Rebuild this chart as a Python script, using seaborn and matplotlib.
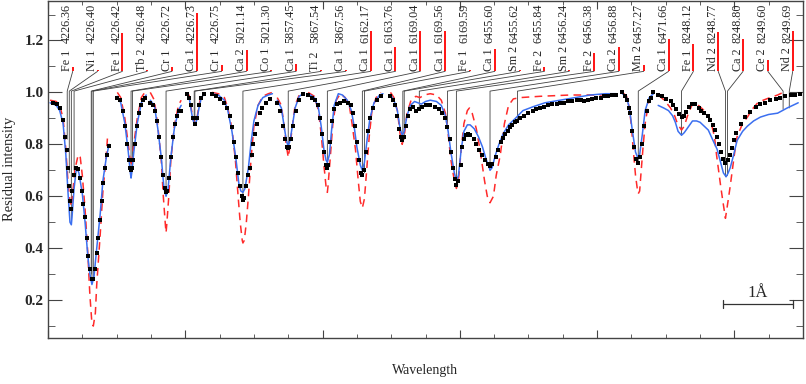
import pandas as pd
import numpy as np
import matplotlib
matplotlib.use('Agg')
import matplotlib.pyplot as plt
from matplotlib.ticker import MultipleLocator, FormatStrFormatter
import seaborn as sns

# x = position along the stitched plot in Angstrom, y = residual intensity

# Ca 1 4226 region
s1_obs_x = [0.07,0.13,0.17,0.22,0.25,0.28,0.29,0.31,0.32,0.34, 0.35,0.38,0.41,0.44,0.47,0.50,0.51,0.54,0.57,0.58,
            0.61,0.64,0.66,0.69,0.71,0.73,0.76,0.79,0.80,0.83, 0.86,0.89]
s1_obs_y = [0.96,0.955,0.94,0.895,0.83,0.78,0.71,0.64,0.58,0.55, 0.62,0.68,0.71,0.705,0.67,0.62,0.57,0.52,0.44,0.37,
            0.32,0.28,0.28,0.32,0.38,0.44,0.51,0.58,0.65,0.71, 0.76,0.795]
s1_blue_x = [0.03,0.12,0.17,0.22,0.26,0.29,0.32,0.34,0.35,0.38, 0.41,0.42,0.45,0.50,0.54,0.58,0.61,0.64,0.67,0.71, 0.76,0.80,0.85,0.89]
s1_blue_y = [0.96,0.95,0.93,0.88,0.76,0.62,0.50,0.49,0.52,0.63, 0.70,0.71,0.69,0.61,0.50,0.37,0.30,0.26,0.29,0.40, 0.53,0.66,0.75,0.80]
s1_red_x = [0.03,0.12,0.17,0.22,0.26,0.29,0.32,0.34,0.35,0.39, 0.44,0.47,0.50,0.54,0.58,0.61,0.64,0.66,0.69,0.71, 0.76,0.80,0.85,0.87]
s1_red_y = [0.97,0.965,0.95,0.90,0.78,0.66,0.58,0.56,0.58,0.70, 0.76,0.75,0.68,0.55,0.38,0.22,0.11,0.10,0.15,0.26, 0.45,0.62,0.76,0.84]

# Ca 2 5021
s2_obs_x = [1.01,1.05,1.09,1.12,1.15,1.18,1.20,1.21,1.22,1.24,1.27,1.30,1.33,1.36,1.38,1.41]
s2_obs_y = [0.98,0.97,0.93,0.87,0.80,0.74,0.71,0.70,0.71,0.74,0.80,0.87,0.92,0.95,0.97,0.98]
s2_blue_x = [1.01,1.06,1.12,1.17,1.20,1.21,1.22,1.25,1.30,1.36,1.43]
s2_blue_y = [0.985,0.96,0.88,0.77,0.69,0.67,0.69,0.77,0.88,0.96,0.99]
s2_red_x = [1.01,1.06,1.12,1.17,1.20,1.21,1.22,1.25,1.30,1.36,1.41]
s2_red_y = [1.0,0.98,0.90,0.80,0.73,0.715,0.73,0.80,0.90,0.98,1.0]

# Ca 1 5857
s3_obs_x = [1.49,1.53,1.56,1.59,1.62,1.65,1.68,1.71,1.72,1.73,1.76,1.79,1.82,1.85,1.88,1.91,1.94]
s3_obs_y = [0.96,0.95,0.93,0.89,0.83,0.75,0.68,0.63,0.615,0.62,0.67,0.75,0.83,0.88,0.91,0.93,0.93]
s3_blue_x = [1.49,1.55,1.60,1.65,1.69,1.72,1.75,1.79,1.84,1.90,1.94]
s3_blue_y = [0.97,0.95,0.86,0.75,0.63,0.60,0.63,0.75,0.86,0.93,0.95]
s3_red_x = [1.49,1.55,1.60,1.65,1.68,1.71,1.72,1.73,1.76,1.79,1.84,1.90,1.94]
s3_red_y = [1.0,0.97,0.87,0.74,0.60,0.49,0.46,0.49,0.60,0.74,0.87,0.95,0.97]

# Ti 2 / Ca 1 5867
s4_obs_x = [2.03,2.06,2.08,2.11,2.14,2.17,2.20,2.23,2.27]
s4_obs_y = [0.995,0.98,0.95,0.90,0.88,0.90,0.95,0.98,0.995]
s4_blue_x = [2.03,2.06,2.08,2.11,2.14,2.17,2.20,2.23,2.27]
s4_blue_y = [0.995,0.975,0.94,0.895,0.875,0.895,0.94,0.975,0.995]
s4_red_x = [2.03,2.06,2.08,2.11,2.14,2.17,2.20,2.23,2.27]
s4_red_y = [1.0,0.985,0.95,0.90,0.88,0.90,0.95,0.985,1.0]

# Ca 1 6162
s5_obs_x = [2.39,2.45,2.51,2.57,2.61,2.65,2.68,2.71,2.74,2.77, 2.80,2.83,2.84,2.86,2.89,2.92,2.94,2.97,2.99,3.02, 3.05,3.09,3.12,3.17,3.24]
s5_obs_y = [0.995,0.985,0.975,0.96,0.94,0.91,0.865,0.81,0.75,0.69, 0.64,0.60,0.585,0.595,0.64,0.68,0.71,0.76,0.80,0.84, 0.88,0.92,0.94,0.96,0.975]
s5_blue_x = [2.39,2.48,2.57,2.62,2.68,2.74,2.78,2.81,2.84,2.87, 2.92,2.96,3.00,3.06,3.13,3.21,3.27]
s5_blue_y = [0.995,0.99,0.97,0.93,0.85,0.74,0.65,0.62,0.615,0.63, 0.71,0.81,0.89,0.95,0.98,0.99,0.995]
s5_red_x = [2.39,2.48,2.57,2.62,2.68,2.73,2.77,2.80,2.83,2.84, 2.86,2.89,2.92,2.96,3.00,3.06,3.13,3.21,3.27]
s5_red_y = [1.0,0.995,0.98,0.94,0.86,0.74,0.60,0.50,0.43,0.42, 0.43,0.50,0.60,0.75,0.87,0.95,0.985,0.995,1.0]

# Ca 1 6163
s6_obs_x = [3.34,3.38,3.43,3.45,3.48,3.50,3.51,3.54,3.57,3.62,3.66,3.72]
s6_obs_y = [0.96,0.93,0.87,0.82,0.79,0.785,0.79,0.82,0.87,0.93,0.97,0.995]
s6_blue_x = [3.34,3.40,3.44,3.47,3.50,3.53,3.56,3.60,3.66,3.72]
s6_blue_y = [0.97,0.94,0.87,0.82,0.79,0.82,0.87,0.94,0.985,0.995]
s6_red_x = [3.34,3.40,3.44,3.47,3.50,3.53,3.56,3.60,3.66,3.72]
s6_red_y = [0.98,0.95,0.87,0.80,0.75,0.80,0.87,0.95,0.99,1.0]

# Ca 1 6169
s7_obs_x = [3.79,3.85,3.89,3.94,3.97,3.99,4.02,4.05,4.07,4.08, 4.11,4.14,4.17,4.21,4.26,4.31,4.37,4.42,4.45,4.48,
            4.50,4.53,4.56,4.58,4.61,4.64,4.66,4.69,4.74,4.80, 4.85]
s7_obs_y = [0.99,0.98,0.97,0.95,0.90,0.84,0.77,0.72,0.71,0.72, 0.81,0.89,0.935,0.955,0.96,0.965,0.96,0.95,0.92,0.87,
            0.81,0.74,0.69,0.68,0.70,0.77,0.85,0.90,0.94,0.97, 0.985]
s7_blue_x = [3.79,3.88,3.94,3.98,4.02,4.05,4.07,4.10,4.13,4.17, 4.23,4.29,4.36,4.42,4.46,4.50,4.55,4.58,4.61,4.65, 4.69,4.75,4.83,4.88]
s7_blue_y = [0.995,0.98,0.94,0.87,0.78,0.74,0.73,0.76,0.85,0.95, 0.995,0.99,0.97,0.93,0.87,0.79,0.72,0.70,0.73,0.82, 0.90,0.96,0.99,0.995]
s7_red_x = [3.79,3.88,3.94,3.98,4.02,4.05,4.07,4.08,4.11,4.15, 4.20,4.26,4.33,4.39,4.43,4.48,4.52,4.55,4.58,4.61, 4.64,4.68,4.72,4.78,4.85]
s7_red_y = [1.0,0.985,0.93,0.84,0.72,0.64,0.615,0.64,0.74,0.88, 0.97,0.995,0.98,0.95,0.88,0.78,0.66,0.58,0.555,0.59, 0.69,0.83,0.93,0.98,1.0]

# 6455-6457 blend
s8_obs_x = [4.99,5.03,5.06,5.09,5.12,5.15,5.16,5.19,5.22,5.25, 5.28,5.32,5.36,5.41,5.45,5.51,5.57,5.64,5.70,5.74,
            5.79,5.82,5.85,5.87,5.90,5.93,5.95,5.98,6.01,6.03, 6.06,6.09,6.12,6.15,6.20,6.24,6.28,6.33,6.37,6.41,
            6.44,6.47,6.52,6.56,6.60,6.63,6.66,6.70,6.73,6.76, 6.81,6.84,6.88,6.94,7.00,7.06,7.11,7.17,7.23,7.29,
            7.35,7.41,7.46,7.52,7.58,7.64,7.70,7.76,7.81,7.87, 7.93,7.99,8.05,8.10,8.16,8.22,8.28]
s8_obs_y = [0.985,0.97,0.95,0.91,0.86,0.83,0.815,0.83,0.87,0.91, 0.935,0.945,0.93,0.935,0.945,0.95,0.95,0.945,0.935,0.92,
            0.90,0.865,0.82,0.77,0.71,0.665,0.645,0.66,0.72,0.79, 0.82,0.835,0.84,0.835,0.82,0.80,0.78,0.76,0.74,0.725,
            0.715,0.725,0.75,0.78,0.81,0.825,0.84,0.85,0.865,0.875, 0.885,0.89,0.90,0.91,0.92,0.93,0.935,0.94,0.945,0.95,
            0.955,0.955,0.96,0.96,0.965,0.965,0.97,0.97,0.965,0.97, 0.975,0.98,0.98,0.985,0.985,0.99,0.99]
s8_blue_x = [4.99,5.04,5.09,5.13,5.16,5.19,5.23,5.28,5.34,5.39, 5.44,5.50,5.57,5.66,5.73,5.79,5.83,5.87,5.92,5.95,
             5.98,6.02,6.06,6.11,6.15,6.21,6.27,6.33,6.38,6.43, 6.44,6.47,6.52,6.57,6.63,6.71,6.81,6.92,7.07,7.24,
             7.46,7.68,7.90,8.12,8.28]
s8_blue_y = [0.99,0.97,0.93,0.86,0.835,0.85,0.91,0.95,0.965,0.96, 0.955,0.965,0.97,0.965,0.95,0.91,0.85,0.77,0.69,0.66,
             0.68,0.78,0.85,0.875,0.875,0.86,0.83,0.79,0.745,0.71, 0.70,0.71,0.76,0.80,0.84,0.875,0.90,0.93,0.945,0.96,
             0.97,0.98,0.99,0.995,0.995]
s8_red_x = [4.99,5.04,5.09,5.13,5.16,5.19,5.23,5.29,5.36,5.42, 5.48,5.57,5.66,5.73,5.79,5.83,5.87,5.92,5.95,5.98,
            6.02,6.06,6.11,6.14,6.18,6.24,6.30,6.36,6.40,6.44, 6.49,6.53,6.59,6.65,6.71,6.78,6.88,7.17,7.61,8.05, 8.22]
s8_red_y = [1.0,0.98,0.93,0.84,0.80,0.83,0.92,0.97,0.985,0.98, 0.99,0.995,0.99,0.97,0.92,0.84,0.74,0.66,0.63,0.66,
            0.78,0.88,0.93,0.94,0.92,0.86,0.77,0.66,0.60,0.575, 0.60,0.68,0.76,0.88,0.95,0.975,0.98,0.985,0.99,0.99, 0.995]

# Ca 1 6471
s9_obs_x = [8.37,8.41,8.44,8.47,8.48,8.51,8.54,8.57,8.60,8.63,8.66,8.69,8.72,8.75,8.78,8.82]
s9_obs_y = [1.0,0.985,0.97,0.94,0.92,0.85,0.79,0.745,0.73,0.75,0.80,0.87,0.93,0.965,0.98,1.0]
s9_blue_x = [8.37,8.43,8.47,8.51,8.56,8.59,8.62,8.66,8.70,8.76,8.82]
s9_blue_y = [0.995,0.98,0.94,0.86,0.77,0.75,0.76,0.84,0.93,0.98,0.995]
s9_red_x = [8.37,8.43,8.47,8.50,8.53,8.56,8.59,8.60,8.62,8.64,8.67,8.70,8.75,8.80]
s9_red_y = [1.0,0.985,0.94,0.87,0.77,0.68,0.62,0.61,0.62,0.69,0.79,0.88,0.96,0.995]

# 8248-8249
s10_obs_x = [8.89,8.95,9.01,9.07,9.11,9.15,9.20,9.23,9.26,9.30, 9.34,9.39,9.43,9.48,9.52,9.56,9.61,9.65,9.69,9.72,
             9.75,9.78,9.81,9.84,9.87,9.90,9.93,9.96,9.99,10.03, 10.09,10.16,10.23,10.31,10.38,10.45,10.52,10.60,10.67,10.74,
             10.82,10.89,10.95]
s10_obs_y = [0.99,0.985,0.975,0.965,0.95,0.935,0.915,0.905,0.91,0.925, 0.945,0.955,0.955,0.94,0.93,0.92,0.91,0.895,0.875,0.855,
             0.83,0.80,0.77,0.745,0.73,0.74,0.76,0.785,0.815,0.845, 0.88,0.905,0.925,0.945,0.955,0.96,0.97,0.975,0.98,0.985,
             0.99,0.99,0.995]
s10_blue_x = [8.89,8.97,9.04,9.10,9.14,9.18,9.23,9.27,9.31,9.39, 9.45,9.50,9.56,9.62,9.68,9.75,9.80,9.84,9.88,9.91,
              9.94,9.99,10.04,10.12,10.19,10.28,10.38,10.50,10.63,10.70, 10.77,10.85,10.93]
s10_blue_y = [0.95,0.94,0.93,0.91,0.885,0.85,0.835,0.845,0.86,0.89, 0.89,0.885,0.87,0.855,0.82,0.78,0.73,0.69,0.675,0.69,
              0.71,0.76,0.815,0.85,0.87,0.89,0.905,0.915,0.92,0.93, 0.94,0.95,0.96]
s10_red_x = [8.89,8.98,9.07,9.13,9.17,9.23,9.27,9.33,9.39,9.43, 9.50,9.58,9.64,9.66,9.71,9.74,9.77,9.80,9.83,9.87,
             9.91,9.94,9.97,10.01,10.04,10.12,10.19,10.26,10.34,10.42, 10.52,10.63,10.71]
s10_red_y = [0.99,0.97,0.94,0.91,0.88,0.855,0.87,0.92,0.955,0.96, 0.945,0.925,0.90,0.885,0.83,0.76,0.70,0.64,0.585,0.515,
             0.585,0.64,0.70,0.78,0.83,0.88,0.905,0.935,0.96,0.97, 0.98,0.99,1.0]

# line identifications
ion_names = ['Fe 1','Ni 1','Fe 1','Tb 2','Cr 1','Ca 1','Cr 1','Ca 2','Co 1','Ca 1',
             'Ti 2','Ca 1','Ca 1','Ca 1','Ca 1','Ca 1','Fe 1','Ca 1','Sm 2','Fe 2',
             'Sm 2','Fe 2','Ca 2','Mn 2','Ca 1','Fe 1','Nd 2','Ca 2','Ce 2','Nd 2']
line_wl = ['4226.36','4226.40','4226.42','4226.48','4226.72','4226.73','4226.75','5021.14','5021.30','5857.45',
           '5867.54','5867.56','6162.17','6163.76','6169.04','6169.56','6169.59','6455.60','6455.62','6455.84',
           '6456.24','6456.38','6456.88','6457.27','6471.66','8248.12','8248.77','8248.80','8249.60','8249.69']
line_pos = [0.28,0.31,0.34,0.38,0.63,0.64,0.66,1.21,1.23,1.72,
            2.13,2.14,2.84,3.50,4.07,4.58,4.61,5.17,5.19,5.41,
            5.82,5.95,6.44,6.84,8.60,9.23,9.87,9.90,10.71,10.80]
line_depth = [0.82,0.69,0.50,0.70,0.30,0.27,0.28,0.70,0.70,0.61,
              0.89,0.88,0.59,0.78,0.71,0.68,0.69,0.81,0.82,0.94,
              0.88,0.645,0.715,0.89,0.73,0.835,0.675,0.68,0.935,0.94]
line_strength = [0.015,0.007,0.146,0.007,0.015,0.223,0.023,0.084,0.007,0.027,
                 0.007,0.007,0.154,0.092,0.157,0.157,0.007,0.088,0.007,0.015,
                 0.007,0.069,0.092,0.023,0.123,0.107,0.150,0.123,0.042,0.154]

obs_x = [s1_obs_x, s2_obs_x, s3_obs_x, s4_obs_x, s5_obs_x, s6_obs_x, s7_obs_x, s8_obs_x, s9_obs_x, s10_obs_x]
obs_y = [s1_obs_y, s2_obs_y, s3_obs_y, s4_obs_y, s5_obs_y, s6_obs_y, s7_obs_y, s8_obs_y, s9_obs_y, s10_obs_y]
blue_x = [s1_blue_x, s2_blue_x, s3_blue_x, s4_blue_x, s5_blue_x, s6_blue_x, s7_blue_x, s8_blue_x, s9_blue_x, s10_blue_x]
blue_y = [s1_blue_y, s2_blue_y, s3_blue_y, s4_blue_y, s5_blue_y, s6_blue_y, s7_blue_y, s8_blue_y, s9_blue_y, s10_blue_y]
red_x = [s1_red_x, s2_red_x, s3_red_x, s4_red_x, s5_red_x, s6_red_x, s7_red_x, s8_red_x, s9_red_x, s10_red_x]
red_y = [s1_red_y, s2_red_y, s3_red_y, s4_red_y, s5_red_y, s6_red_y, s7_red_y, s8_red_y, s9_red_y, s10_red_y]


def to_frame(xs, ys):
    parts = [pd.DataFrame({'x': x, 'y': y, 'seg': i}) for i, (x, y) in enumerate(zip(xs, ys))]
    return pd.concat(parts, ignore_index=True)


df_obs = to_frame(obs_x, obs_y)
df_blue = to_frame(blue_x, blue_y)
df_red = to_frame(red_x, red_y)

sns.set_style('ticks')
plt.rcParams['font.family'] = ['Liberation Serif', 'DejaVu Serif']

fig = plt.figure(figsize=(8.06, 3.84), dpi=100)
ax = fig.add_axes([48 / 806, 46 / 384, 755 / 806, 337.5 / 384])

# model curves and observed points
n0 = len(ax.lines)
sns.lineplot(data=df_red, x='x', y='y', units='seg', estimator=None, sort=False,
             color='#ff2a2a', linewidth=1.1, ax=ax, zorder=3)
for ln in ax.lines[n0:]:
    ln.set_dashes([5, 3.5])
sns.lineplot(data=df_blue, x='x', y='y', units='seg', estimator=None, sort=False,
             color='#3b6ff0', linewidth=1.1, ax=ax, zorder=4)
sns.scatterplot(data=df_obs, x='x', y='y', marker='s', s=6, color='black',
                linewidth=0, ax=ax, zorder=5)

# line identification labels
label_x = np.linspace(0.28, 10.77, len(ion_names))
bar_dx = 0.08
label_base = 1.081
knee_y = 1.005
for i in range(len(ion_names)):
    bx = label_x[i] + bar_dx
    ax.plot([bx, line_pos[i], line_pos[i]], [label_base, knee_y, line_depth[i]],
            color='#404040', linewidth=0.6, zorder=2)
    ax.plot([bx, bx], [label_base, label_base + line_strength[i]], color='red',
            linewidth=1.3, zorder=3, solid_capstyle='butt')
    ax.text(label_x[i], label_base, ion_names[i], rotation=90, ha='center', va='bottom',
            fontsize=8.7)
    ax.text(label_x[i], 1.192, line_wl[i], rotation=90, ha='center', va='bottom',
            fontsize=8.7)

# 1 A scale bar
ax.plot([9.84, 10.85], [0.185, 0.185], color='#333333', linewidth=0.9)
ax.plot([9.84, 9.84], [0.17, 0.2], color='#333333', linewidth=0.9)
ax.plot([10.85, 10.85], [0.17, 0.2], color='#333333', linewidth=0.9)
ax.text(10.34, 0.195, '1Å', ha='center', va='bottom', fontsize=12)

ax.set_xlim(0, 11.0)
ax.set_ylim(0.054, 1.354)
ax.xaxis.set_major_locator(MultipleLocator(2))
ax.xaxis.set_minor_locator(MultipleLocator(0.5))
ax.yaxis.set_major_locator(MultipleLocator(0.2))
ax.yaxis.set_minor_locator(MultipleLocator(0.1))
ax.yaxis.set_major_formatter(FormatStrFormatter('%.1f'))
ax.tick_params(which='both', direction='in', top=True, right=True, color='#444444')
ax.tick_params(axis='x', which='major', length=6, labelbottom=False)
ax.tick_params(axis='x', which='minor', length=3)
ax.tick_params(axis='y', which='major', length=10, pad=3, labelsize=11)
ax.tick_params(axis='y', which='minor', length=5)
for lab in ax.get_yticklabels():
    lab.set_fontweight('bold')
for sp in ax.spines.values():
    sp.set_color('#444444')
    sp.set_linewidth(1.0)

ax.set_xlabel('Wavelength', fontsize=10, labelpad=15)
ax.set_ylabel('Residual intensity', fontsize=10.5, labelpad=6)

fig.savefig('out.png', dpi=100)
